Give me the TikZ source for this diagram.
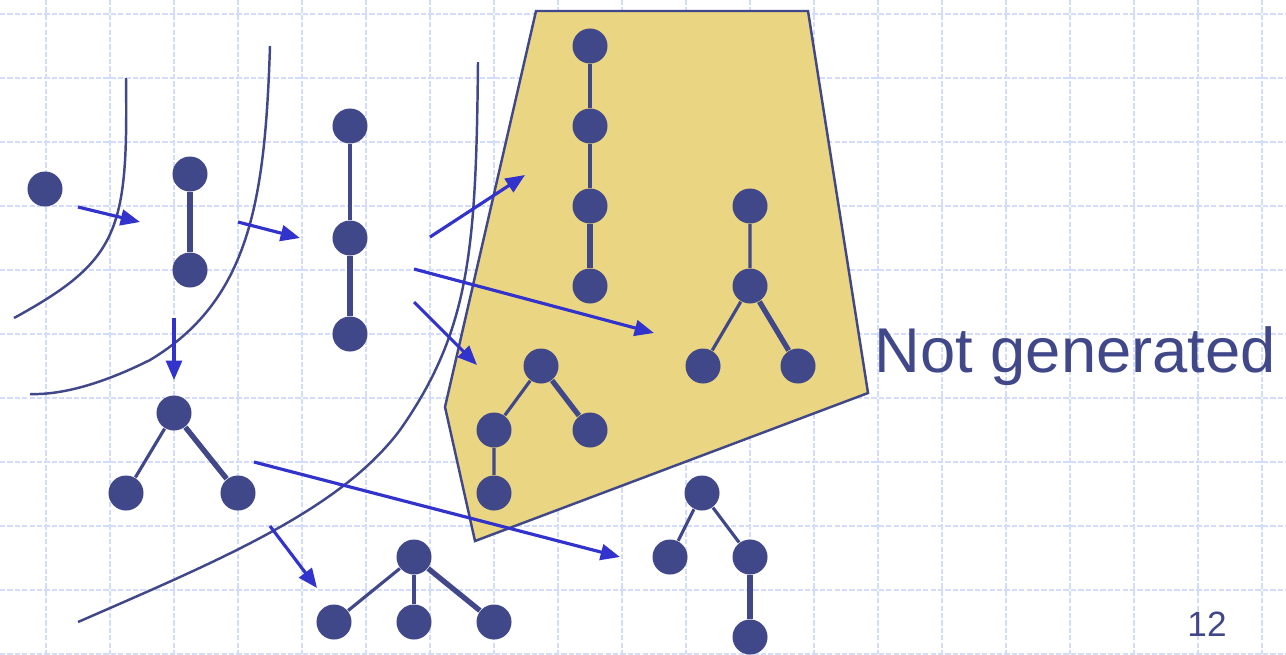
\documentclass[tikz,border=0pt]{standalone}
\usepackage{fontspec}
\setmainfont{Liberation Sans}
\usepackage{xcolor}
\usepackage{tikz}
\usetikzlibrary{arrows.meta}
\definecolor{navy}{HTML}{414889}
\definecolor{genblue}{HTML}{3232CC}
\definecolor{gridblue}{HTML}{D3DCFA}
\definecolor{khaki}{HTML}{EAD682}

\begin{document}
\begin{tikzpicture}[x=0.01cm, y=-0.01cm,
  vertex/.style={circle, fill=navy, inner sep=0pt, minimum size=0.35cm},
  edge/.style={navy, line width=0.9pt},
  newedge/.style={navy, line width=1.5pt},
  gen/.style={genblue, line width=0.9pt, -{Triangle[length=5.5pt, width=4.5pt]}},
  border/.style={navy, line width=0.7pt}]
  \useasboundingbox (0,0) rectangle (1286,654);
  \fill[white] (0,0) rectangle (1286,654);
  \foreach \x in {46,110,...,1262} \draw[gridblue, line width=0.8pt, dash pattern=on 1.5pt off 0.6pt] (\x,0) -- (\x,654);
  \foreach \y in {14,78,...,654} \draw[gridblue, line width=0.8pt, dash pattern=on 1.5pt off 0.6pt] (0,\y) -- (1286,\y);

  \draw[border, fill=khaki] (536,11) -- (808,11) -- (868,393) -- (475,541) -- (445,407) -- cycle;

  \draw[border] (126,78) .. controls (128,230) and (120,260) .. (14,318);
  \draw[border] (270,46) .. controls (265,200) and (250,300) .. (150,360) .. controls (100,385) and (60,395) .. (30,394);
  \draw[border] (478,62) .. controls (476,250) and (470,330) .. (400,430) .. controls (340,510) and (220,560) .. (78,622);

  \node[vertex] (a1) at (45,189) {};

  \node[vertex] (b1) at (190,174) {};
  \node[vertex] (b2) at (190,270) {};
  \draw[newedge] (b1) -- (b2);

  \node[vertex] (c1) at (350,126) {};
  \node[vertex] (c2) at (350,238) {};
  \node[vertex] (c3) at (350,334) {};
  \draw[edge] (c1) -- (c2);
  \draw[newedge] (c2) -- (c3);

  \node[vertex] (d1) at (174,413) {};
  \node[vertex] (d2) at (126,493) {};
  \node[vertex] (d3) at (238,493) {};
  \draw[edge] (d1) -- (d2);
  \draw[newedge] (d1) -- (d3);

  \node[vertex] (e1) at (590,46) {};
  \node[vertex] (e2) at (590,126) {};
  \node[vertex] (e3) at (590,206) {};
  \node[vertex] (e4) at (590,286) {};
  \draw[edge] (e1) -- (e2) -- (e3);
  \draw[newedge] (e3) -- (e4);

  \node[vertex] (f1) at (750,206) {};
  \node[vertex] (f2) at (750,286) {};
  \node[vertex] (f3) at (703,366) {};
  \node[vertex] (f4) at (798,366) {};
  \draw[edge] (f1) -- (f2) -- (f3);
  \draw[newedge] (f2) -- (f4);

  \node[vertex] (g1) at (541,366) {};
  \node[vertex] (g2) at (494,430) {};
  \node[vertex] (g3) at (590,430) {};
  \node[vertex] (g4) at (494,493) {};
  \draw[edge] (g1) -- (g2) -- (g4);
  \draw[newedge] (g1) -- (g3);

  \node[vertex] (h1) at (414,557) {};
  \node[vertex] (h2) at (334,622) {};
  \node[vertex] (h3) at (414,622) {};
  \node[vertex] (h4) at (494,622) {};
  \draw[edge] (h1) -- (h2);
  \draw[edge] (h1) -- (h3);
  \draw[newedge] (h1) -- (h4);

  \node[vertex] (i1) at (702,493) {};
  \node[vertex] (i2) at (670,557) {};
  \node[vertex] (i3) at (750,557) {};
  \node[vertex] (i4) at (750,637) {};
  \draw[edge] (i1) -- (i2);
  \draw[edge] (i1) -- (i3);
  \draw[newedge] (i3) -- (i4);

  \coordinate (s1) at (78,207);   \coordinate (t1) at (140,222);
  \coordinate (s2) at (238,222);  \coordinate (t2) at (300,238);
  \coordinate (s3) at (174,318);  \coordinate (t3) at (174,380);
  \coordinate (s4) at (430,237);  \coordinate (t4) at (525,175);
  \coordinate (s5) at (414,269);  \coordinate (t5) at (654,333);
  \coordinate (s6) at (414,302);  \coordinate (t6) at (477,365);
  \coordinate (s7) at (254,462);  \coordinate (t7) at (620,557);
  \coordinate (s8) at (270,526);  \coordinate (t8) at (317,588);
  \foreach \i in {1,...,8} \draw[gen] (s\i) -- (t\i);

  \node[anchor=base west, inner sep=0pt, text=navy, font=\fontsize{18}{20}\selectfont] (notgen) at (874,372) {Not generated};
  \node[anchor=base, inner sep=0pt, text=navy, font=\fontsize{10}{12}\selectfont] (pageno) at (1207,636) {12};
\end{tikzpicture}
\end{document}
